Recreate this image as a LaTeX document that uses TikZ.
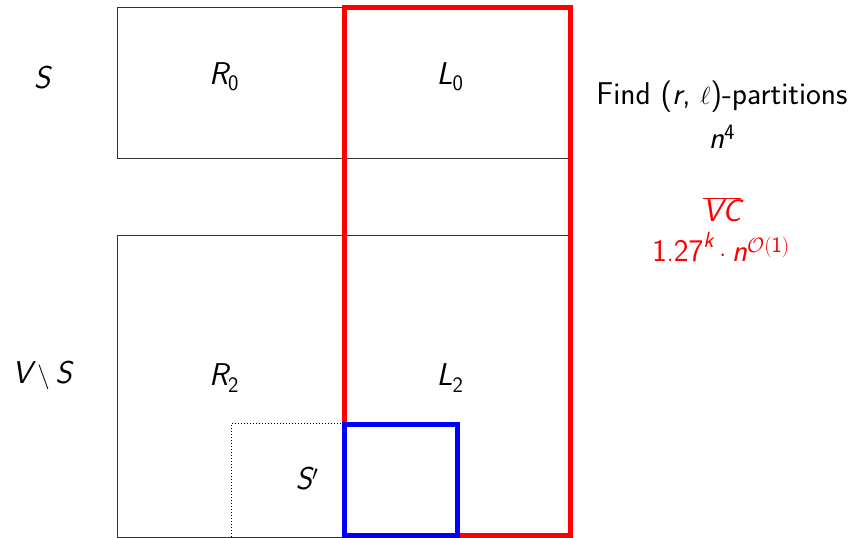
\documentclass[tikz,border=0pt]{standalone}
\usepackage{xcolor}
\DeclareMathAlphabet{\mathssl}{TU}{lmss}{m}{sl}
\DeclareMathAlphabet{\mathsfu}{TU}{lmss}{m}{n}
\begin{document}
\begin{tikzpicture}[x=1pt,y=-1pt,
  thinbox/.style={draw=black!80, line width=1pt},
  redbox/.style={draw=red, line width=5pt},
  bluebox/.style={draw=blue, line width=5pt},
  lbl/.style={font=\fontsize{31.5}{37}\selectfont\sffamily, inner sep=0pt, anchor=center}]
\useasboundingbox (0,0) rectangle (852,538);
% black boxes
\draw[thinbox] (117,7) rectangle (570,158);
\draw[thinbox] (344,7) -- (344,158);
\draw[thinbox] (117,235) rectangle (570,537);
\draw[thinbox] (344,235) -- (344,537);
% dotted
\coordinate (d0) at (231,537);
\coordinate (d1) at (231,423.5);
\coordinate (d2) at (344,423.5);
\draw[black, line width=1pt, dotted] (d0) -- (d1) -- (d2);
% red and blue
\draw[redbox] (344,7.5) rectangle (570.5,535.5);
\draw[bluebox] (344,424) rectangle (457.5,535.5);
% labels
\node[lbl] (s) at (42,78) {$\mathssl{S}$};
\node[lbl] (r0) at (224,77) {$\mathssl{R}_{\mathsfu{0}}$};
\node[lbl] (l0) at (450,77) {$\mathssl{L}_{\mathsfu{0}}$};
\node[lbl] (find) at (722,97) {Find (\textsl{r}, $\ell$)-partitions};
\node[lbl] (n4) at (722,137) {$\mathssl{n}^{\mathsfu{4}}$};
\node[lbl, text=red] (vc) at (722,210) {$\overline{\mathssl{VC}}$};
\node[lbl, text=red] (run) at (721,247) {$\mathsfu{1.27}^{\mathssl{k}}\cdot\mathssl{n}^{\mathcal{O}\mathsfu{(1)}}$};
\node[lbl] (vs) at (42,375) {$\mathssl{V}\setminus\mathssl{S}$};
\node[lbl] (r2) at (224,378) {$\mathssl{R}_{\mathsfu{2}}$};
\node[lbl] (l2) at (450,378) {$\mathssl{L}_{\mathsfu{2}}$};
\node[lbl] (sp) at (307,479) {$\mathssl{S}'$};
\end{tikzpicture}
\end{document}
